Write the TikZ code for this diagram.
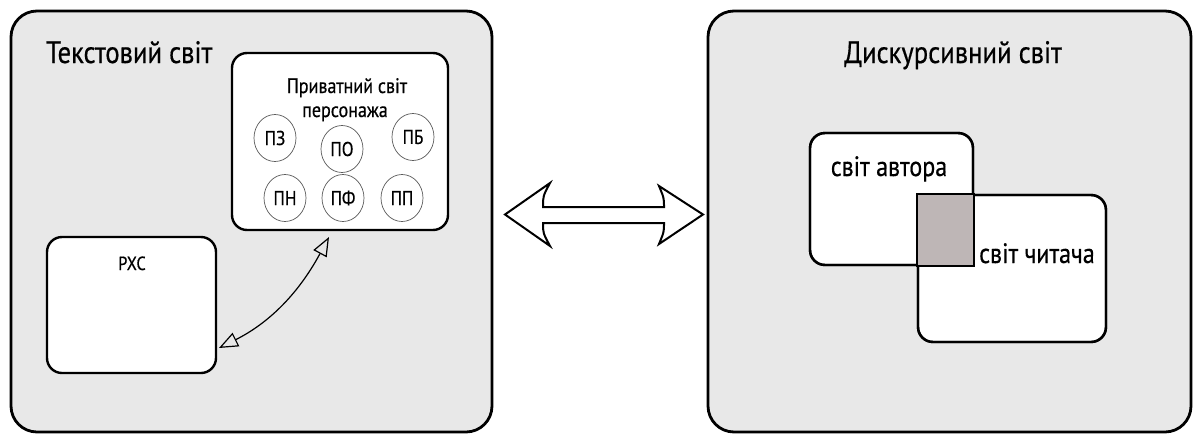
\documentclass[tikz,border=0pt]{standalone}
\usepackage{fontspec}
\setmainfont{PT Sans}[FakeStretch=0.86, FakeBold=0.5]
\usetikzlibrary{arrows.meta,shapes.geometric,calc}

\definecolor{panelgray}{RGB}{232,232,232}
\definecolor{overlapgray}{RGB}{190,182,182}
\definecolor{ringgray}{RGB}{90,90,90}

\tikzset{
  panel/.style={draw=black, line width=2.8pt, fill=panelgray, rounded corners=26pt, inner sep=0pt},
  worldbox/.style={draw=black, line width=2.4pt, fill=white, rounded corners=15pt, inner sep=0pt},
  framebox/.style={draw=black, line width=2.4pt, rounded corners=15pt, inner sep=0pt},
  ring/.style={ellipse, draw=ringgray, line width=0.7pt, fill=white, minimum width=42pt, minimum height=47pt, inner sep=0pt, font=\fontsize{20}{21}\selectfont},
  titletext/.style={font=\fontsize{31}{34}\selectfont, inner sep=0pt},
  labeltext/.style={font=\fontsize{21}{24}\selectfont, inner sep=0pt},
  smalltext/.style={font=\fontsize{19}{21}\selectfont, inner sep=0pt},
  bigtext/.style={font=\fontsize{28}{30}\selectfont, inner sep=0pt},
  relation/.style={line width=1.2pt, {Triangle[open, length=19pt, width=15pt, line width=1.2pt]}-{Triangle[open, length=19pt, width=15pt, line width=1.2pt]}}
}

\begin{document}
\begin{tikzpicture}[x=1pt, y=-1pt]
  \useasboundingbox[fill=white] (0,0) rectangle (1194,437);

  % two outer worlds
  \node[panel, minimum width=481pt, minimum height=421pt] (textw) at (251.5,221.5) {};
  \node[panel, minimum width=483pt, minimum height=421pt] (discw) at (949.5,221.5) {};

  \node[titletext, anchor=base west] (textwtitle) at (46,63) {Текстовий світ};
  \node[titletext, anchor=base] (discwtitle) at (953,63) {Дискурсивний світ};

  % character's private world
  \node[worldbox, minimum width=216pt, minimum height=177pt] (priv) at (340,141.5) {};
  \node[labeltext, anchor=base] (privt1) at (347,93) {Приватний світ};
  \node[labeltext, anchor=base] (privt2) at (345,117) {персонажа};

  \node[ring] (pz) at (275,138) {ПЗ};
  \node[ring] (po) at (342,149) {ПО};
  \node[ring] (pb) at (413,137) {ПБ};
  \node[ring] (pn) at (285,198) {ПН};
  \node[ring] (pf) at (343,198) {ПФ};
  \node[ring] (pp) at (402,198) {ПП};

  % narrative box
  \node[worldbox, minimum width=169pt, minimum height=136pt] (rhs) at (131.5,305) {};
  \node[smalltext, anchor=base] (rhst) at (132,270) {РХС};

  % curved two-way relation
  \coordinate (ra) at (219,348);
  \coordinate (rb) at (329,237);
  \draw[relation] (ra) .. controls (265,325) and (296,298) .. (rb);

  % wide two-way arrow between the worlds
  \coordinate (la) at (505,214.5);
  \coordinate (lb) at (703,214.5);
  \draw[line width=2pt, fill=white, line join=miter]
    (la) -- (550,183) .. controls (543,196) .. (543,207) -- (664,207)
    .. controls (664,198) .. (659,186) -- (lb) -- (659,244)
    .. controls (664,232) .. (664,223) -- (543,223)
    .. controls (543,233) .. (550,246) -- cycle;

  % author and reader worlds with their shared part
  \node[worldbox, minimum width=163pt, minimum height=132pt] (author) at (891.5,199) {};
  \node[worldbox, minimum width=188pt, minimum height=147pt] (reader) at (1012,268.5) {};
  \node[framebox, minimum width=163pt, minimum height=132pt] at (author) {};
  \node[framebox, minimum width=188pt, minimum height=147pt] at (reader) {};
  \draw[line width=2.4pt, fill=overlapgray] (reader.north west) rectangle (author.south east);

  \node[bigtext, anchor=base] (authort) at (889,176) {світ автора};
  \node[bigtext, anchor=base] (readert) at (1037,263) {світ читача};
\end{tikzpicture}
\end{document}
